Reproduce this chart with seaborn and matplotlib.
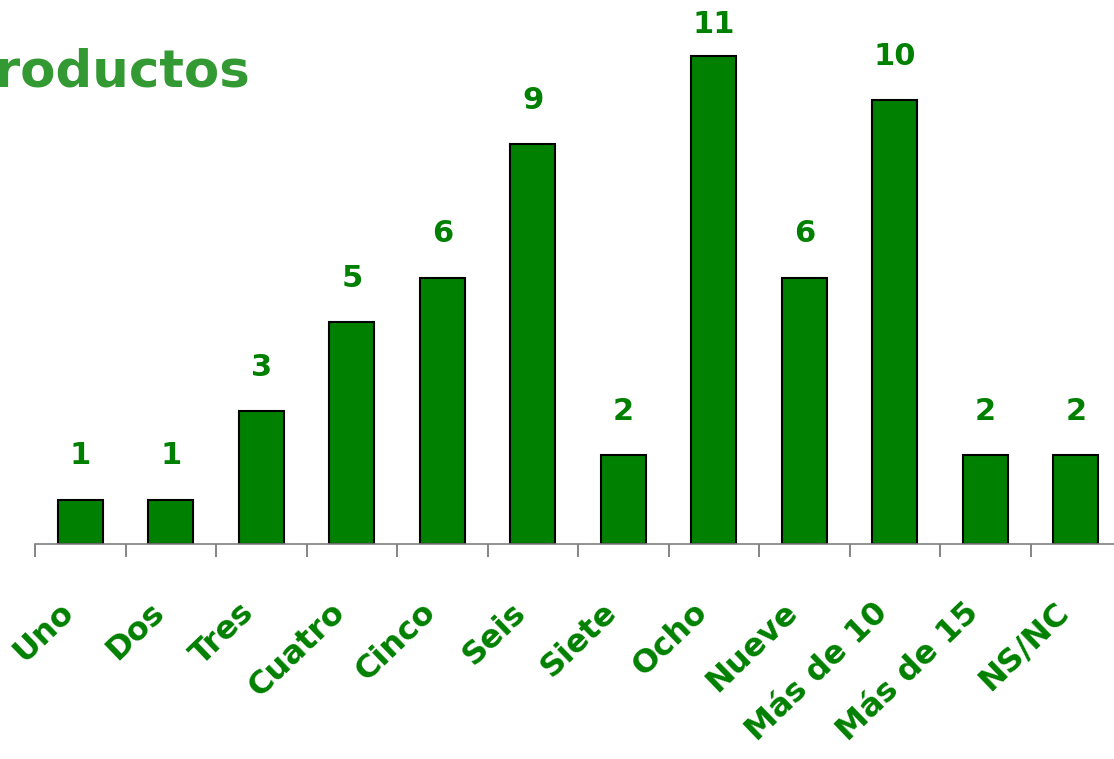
import pandas as pd
import seaborn as sns
import matplotlib.pyplot as plt
from matplotlib.transforms import ScaledTranslation

categorias = ['Uno', 'Dos', 'Tres', 'Cuatro', 'Cinco', 'Seis', 'Siete', 'Ocho',
              'Nueve', 'Más de 10', 'Más de 15', 'NS/NC']
valores = [1, 1, 3, 5, 6, 9, 2, 11, 6, 10, 2, 2]
titulo = 'Productos'

df = pd.DataFrame({'categoria': categorias, 'valor': valores})

sns.set_style('white')
plt.rcParams['font.family'] = ['DejaVu Sans']

fig = plt.figure(figsize=(11.14, 7.59), dpi=100)
ax = fig.add_axes([35 / 1114, 215 / 759, 1086 / 1114, 544 / 759])

sns.barplot(data=df, x='categoria', y='valor', color='#008000', saturation=1,
            width=0.5, edgecolor='black', linewidth=1.5, ax=ax)

ax.set_xlim(-0.5, len(categorias) - 0.5)
ax.set_ylim(0, 12.25)

# valores encima de las barras (el mayor queda pegado al borde superior)
for i, v in enumerate(valores):
    off = 12 if v == max(valores) else 21
    ax.annotate(str(v), (i, v), xytext=(0, off), textcoords='offset points',
                ha='center', va='bottom', fontsize=22, fontweight='bold',
                color='#008000')

for s in ['top', 'right', 'left']:
    ax.spines[s].set_visible(False)
ax.spines['bottom'].set_color('#808080')
ax.spines['bottom'].set_linewidth(1.2)

ax.set_yticks([])
ax.set_xlabel('')
ax.set_ylabel('')

ax.set_xticks([i - 0.5 for i in range(len(categorias))], minor=True)
ax.tick_params(axis='x', which='minor', length=9, width=1.2, color='#707070',
               direction='out', bottom=True)
ax.tick_params(axis='x', which='major', length=0, pad=38)
ax.set_xticks(range(len(categorias)))
ax.set_xticklabels(categorias, rotation=44, ha='right', rotation_mode='anchor',
                   fontsize=23, fontweight='bold', color='#008000')
shift = ScaledTranslation(-22 / 100, 0, fig.dpi_scale_trans)
for lab in ax.get_xticklabels():
    lab.set_transform(lab.get_transform() + shift)

fig.text(-0.038, 0.905, titulo, fontsize=37, fontweight='bold', color='#339933',
         ha='left', va='center')

fig.savefig('out.png', dpi=100)
